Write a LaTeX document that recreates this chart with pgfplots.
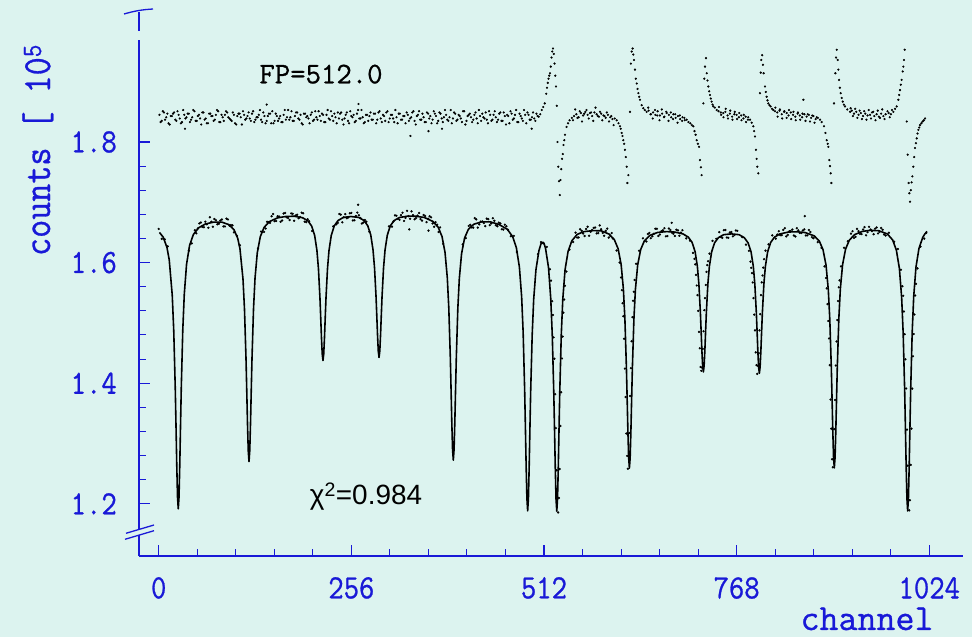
\documentclass[border=0pt]{standalone}
\usepackage{pgfplots}
\pgfplotsset{compat=1.18}
\usepackage{fontspec}
\newfontfamily\monofont[FakeStretch=0.88,FakeBold=0.8]{Latin Modern Mono}
\newfontfamily\plainmono[FakeBold=0.8]{Latin Modern Mono}
\newfontfamily\sansfont{Liberation Sans}
\definecolor{bgc}{RGB}{220,243,239}
\definecolor{axb}{RGB}{25,25,215}
\begin{document}
\begin{tikzpicture}[x=1bp,y=1bp]
\fill[bgc] (0,0) rectangle (972,637);
\path[use as bounding box] (0,0) rectangle (972,637);
\begin{axis}[
  at={(139bp,81bp)}, anchor=south west,
  scale only axis, width=824bp, height=544bp,
  xmin=-26.18, xmax=1068.84, ymin=1.11343, ymax=2.01559,
  axis x line=bottom, axis y line=left,
  axis line style={-, draw=axb, line width=1.3pt},
  tick align=inside,
  major tick length=11bp, minor tick length=7bp,
  tick style={draw=axb, line width=1.1pt},
  xtick={0,256,512,768,1024}, xticklabels={0,256,512,768,1024},
  ytick={1.2,1.4,1.6,1.8}, yticklabels={1.2,1.4,1.6,1.8},
  minor xtick={51.2,102.4,153.6,204.8,307.2,358.4,409.6,460.8,563.2,614.4,665.6,716.8,819.2,870.4,921.6,972.8},
  minor ytick={1.24,1.28,1.32,1.36,1.44,1.48,1.52,1.56,1.64,1.68,1.72,1.76},
  xticklabel style={anchor=north, inner sep=0pt, yshift=-21bp, text=axb, font=\monofont\fontsize{34}{34}\selectfont},
  yticklabel style={anchor=east, inner sep=0pt, xshift=-22bp, text=axb, font=\monofont\fontsize{34}{34}\selectfont},
]
% residuals
\addplot[only marks, mark=*, mark size=0.9pt, mark options={draw=none, fill=black}] coordinates {
(1,1.845) (4,1.835) (7,1.849) (10,1.841) (13,1.831) (16,1.843) (19,1.847) (22,1.837) (25,1.851) (28,1.839)
(31,1.833) (34,1.845) (37,1.841) (40,1.847) (43,1.837) (46,1.853) (49,1.835) (52,1.843) (55,1.839) (58,1.849)
(61,1.837) (64,1.831) (67,1.847) (70,1.843) (73,1.835) (76,1.845) (79,1.851) (82,1.833) (85,1.841) (88,1.845)
(91,1.849) (94,1.839) (97,1.835) (100,1.845) (103,1.829) (106,1.847) (109,1.841) (112,1.851) (115,1.837) (118,1.843)
(121,1.839) (124,1.847) (127,1.833) (130,1.841) (133,1.845) (136,1.837) (139,1.849) (142,1.831) (145,1.843) (148,1.847)
(151,1.851) (154,1.835) (157,1.843) (160,1.839) (163,1.833) (166,1.845) (169,1.837) (172,1.853) (175,1.841) (178,1.835)
(181,1.843) (184,1.849) (187,1.837) (190,1.831) (193,1.847) (196,1.841) (199,1.839) (202,1.845) (205,1.835) (208,1.851)
(211,1.837) (214,1.843) (217,1.847) (220,1.833) (223,1.845) (226,1.839) (229,1.851) (232,1.835) (235,1.841) (238,1.849)
(241,1.847) (244,1.837) (247,1.839) (250,1.849) (253,1.831) (256,1.843) (259,1.845) (262,1.835) (265,1.853) (268,1.839)
(271,1.841) (274,1.833) (277,1.845) (280,1.843) (283,1.837) (286,1.847) (289,1.831) (292,1.849) (295,1.839) (298,1.845)
(301,1.835) (304,1.851) (307,1.839) (310,1.845) (313,1.833) (316,1.841) (319,1.847) (322,1.837) (325,1.843) (328,1.831)
(331,1.845) (334,1.839) (337,1.849) (340,1.835) (343,1.843) (346,1.851) (349,1.837) (352,1.841) (355,1.833) (358,1.847)
(361,1.843) (364,1.837) (367,1.847) (370,1.831) (373,1.849) (376,1.839) (379,1.841) (382,1.845) (385,1.835) (388,1.853)
(391,1.839) (394,1.847) (397,1.837) (400,1.843) (403,1.833) (406,1.851) (409,1.835) (412,1.845) (415,1.841) (418,1.837)
(421,1.849) (424,1.831) (427,1.843) (430,1.847) (433,1.839) (436,1.837) (439,1.851) (442,1.835) (445,1.845) (448,1.841)
(451,1.837) (454,1.849) (457,1.835) (460,1.843) (463,1.845) (466,1.831) (469,1.847) (472,1.839) (475,1.853) (478,1.833)
(481,1.843) (484,1.835) (487,1.845) (490,1.849) (493,1.837) (496,1.841) (499,1.839) (502,1.847)
(2.5,1.833) (5.5,1.851) (8.5,1.837) (11.5,1.847) (14.5,1.829) (17.5,1.843) (20.5,1.849) (23.5,1.835) (26.5,1.845) (29.5,1.831)
(32.5,1.853) (35.5,1.839) (38.5,1.847) (41.5,1.833) (44.5,1.841) (47.5,1.851) (50.5,1.835) (53.5,1.845) (56.5,1.829) (59.5,1.849)
(62.5,1.839) (65.5,1.831) (68.5,1.847) (71.5,1.843) (74.5,1.837) (77.5,1.853) (80.5,1.833) (83.5,1.845) (86.5,1.835) (89.5,1.851)
(92.5,1.841) (95.5,1.837) (98.5,1.849) (101.5,1.831) (104.5,1.843) (107.5,1.847) (110.5,1.829) (113.5,1.845) (116.5,1.839) (119.5,1.849)
(122.5,1.835) (125.5,1.851) (128.5,1.837) (131.5,1.841) (134.5,1.853) (137.5,1.833) (140.5,1.843) (143.5,1.835) (146.5,1.847) (149.5,1.831)
(152.5,1.831) (155.5,1.847) (158.5,1.835) (161.5,1.843) (164.5,1.833) (167.5,1.853) (170.5,1.841) (173.5,1.837) (176.5,1.851) (179.5,1.835)
(182.5,1.849) (185.5,1.839) (188.5,1.845) (191.5,1.829) (194.5,1.847) (197.5,1.843) (200.5,1.831) (203.5,1.849) (206.5,1.837) (209.5,1.841)
(212.5,1.851) (215.5,1.835) (218.5,1.845) (221.5,1.833) (224.5,1.853) (227.5,1.837) (230.5,1.843) (233.5,1.847) (236.5,1.831) (239.5,1.839)
(242.5,1.849) (245.5,1.829) (248.5,1.845) (251.5,1.835) (254.5,1.851) (257.5,1.841) (260.5,1.833) (263.5,1.847) (266.5,1.839) (269.5,1.853)
(272.5,1.831) (275.5,1.845) (278.5,1.835) (281.5,1.849) (284.5,1.837) (287.5,1.847) (290.5,1.837) (293.5,1.851) (296.5,1.833) (299.5,1.843)
(302.5,1.849) (305.5,1.833) (308.5,1.845) (311.5,1.839) (314.5,1.853) (317.5,1.831) (320.5,1.847) (323.5,1.837) (326.5,1.843) (329.5,1.849)
(332.5,1.835) (335.5,1.841) (338.5,1.851) (341.5,1.829) (344.5,1.845) (347.5,1.837) (350.5,1.847) (353.5,1.833) (356.5,1.849) (359.5,1.839)
(362.5,1.831) (365.5,1.851) (368.5,1.843) (371.5,1.835) (374.5,1.847) (377.5,1.833) (380.5,1.853) (383.5,1.837) (386.5,1.841) (389.5,1.831)
(392.5,1.849) (395.5,1.835) (398.5,1.845) (401.5,1.839) (404.5,1.851) (407.5,1.829) (410.5,1.843) (413.5,1.847) (416.5,1.833) (419.5,1.845)
(422.5,1.839) (425.5,1.853) (428.5,1.835) (431.5,1.841) (434.5,1.849) (437.5,1.831) (440.5,1.845) (443.5,1.837) (446.5,1.851) (449.5,1.833)
(452.5,1.847) (455.5,1.835) (458.5,1.849) (461.5,1.829) (464.5,1.843) (467.5,1.851) (470.5,1.837) (473.5,1.845) (476.5,1.833) (479.5,1.847)
(482.5,1.839) (485.5,1.853) (488.5,1.831) (491.5,1.845) (494.5,1.837) (497.5,1.849) (500.5,1.835) (503.5,1.843)
(35,1.822) (143.5,1.862) (265.5,1.863) (334.5,1.810) (358.5,1.818) (376.5,1.822) (495.6,1.822)
(505,1.842) (507,1.846) (509,1.853) (511,1.858) (513,1.864) (515,1.880) (516,1.890) (517,1.898) (518,1.905) (519,1.910)
(520,1.914) (521,1.925) (522,1.940) (523,1.950) (524,1.955) (525,1.946) (526,1.930) (527,1.910) (528,1.892) (529,1.860)
(530,1.800) (531,1.759) (532,1.735) (533,1.712) (534,1.737) (535,1.755) (536,1.772) (537,1.780) (538,1.795) (539,1.803)
(540,1.812) (542,1.825) (544,1.831) (546,1.836) (549,1.840) (552,1.843) (555,1.846) (558,1.841) (561,1.848) (564,1.844)
(567,1.850) (570,1.845) (573,1.848) (576,1.843) (579,1.849) (582,1.846) (585,1.842) (588,1.847) (591,1.844) (594,1.840)
(597,1.845) (600,1.841) (603,1.838) (606,1.839) (608.6,1.836) (611,1.831) (613,1.826) (614,1.822) (615.2,1.815) (616.3,1.810)
(617.4,1.803) (618.5,1.797) (619.6,1.787) (620.7,1.775) (621.9,1.759) (622.8,1.732) (624.1,1.745) (626.3,1.850) (627.5,1.930) (628.5,1.950)
(629.8,1.955) (630.7,1.945) (631.6,1.936) (632.9,1.920) (634,1.905) (635.2,1.897) (636.3,1.888) (637.4,1.881) (638.5,1.875) (639.6,1.870)
(641.8,1.861) (644,1.856) (646,1.853) (648.4,1.850) (651,1.852) (654,1.846) (657,1.849) (660,1.845) (663,1.851) (666,1.844)
(669,1.847) (672,1.842) (675,1.848) (678,1.845) (681,1.841) (684,1.846) (687,1.840) (690,1.843) (693,1.838) (696,1.841)
(699,1.836) (701.6,1.837) (704,1.833) (706.5,1.831) (708.5,1.828) (710.5,1.826) (712,1.818) (713.5,1.812) (714.9,1.803) (716.5,1.797)
(718,1.792) (719.3,1.770) (720.5,1.758) (721.5,1.745) (723.8,1.864) (725,1.905) (726,1.925) (727.3,1.939) (728.2,1.914) (729.3,1.902)
(730.4,1.892) (731.5,1.884) (732.6,1.878) (733.7,1.872) (734.8,1.867) (736,1.862) (737,1.859) (739,1.857) (741.5,1.853) (744,1.851)
(747,1.849) (750.3,1.848) (753,1.850) (756,1.844) (759,1.847) (762,1.842) (765,1.846) (768,1.845) (771,1.841) (774,1.844)
(777,1.839) (780,1.842) (783,1.837) (785.8,1.837) (788,1.832) (790.2,1.826) (791.3,1.818) (792.4,1.809) (793.7,1.787) (794.6,1.772)
(795.5,1.759) (796.8,1.748) (799,1.881) (800,1.915) (800.8,1.936) (802,1.944) (803,1.928) (803.9,1.914) (805.7,1.892) (806.8,1.883)
(807.9,1.875) (809,1.869) (810.1,1.864) (811.6,1.861) (813.2,1.859) (815,1.855) (816.8,1.853) (819,1.851) (822,1.849) (825,1.852)
(828,1.846) (831,1.850) (834.5,1.848) (837,1.844) (840,1.849) (843,1.845) (846,1.842) (849,1.847) (852,1.844) (855,1.841)
(856.7,1.870) (858,1.846) (861,1.842) (864,1.845) (867,1.840) (870,1.843) (873,1.838) (876,1.840) (878.8,1.837) (881,1.833)
(884.1,1.826) (886,1.815) (887.7,1.803) (889,1.797) (889.9,1.792) (891.2,1.770) (892.1,1.760) (893,1.748) (893.9,1.732) (897.4,1.864)
(899.2,1.914) (900.1,1.940) (901,1.953) (902.3,1.936) (903.2,1.920) (904.1,1.903) (905.2,1.890) (906.3,1.881) (907.6,1.873) (909,1.867)
(910.5,1.862) (912,1.859) (915,1.854) (918.7,1.850) (921,1.852) (924,1.847) (927,1.850) (930,1.845) (933,1.848) (936,1.843)
(939,1.847) (942,1.844) (945.3,1.845) (948,1.849) (951,1.843) (954,1.846) (957,1.842) (960,1.847) (963,1.843) (966,1.846)
(970,1.848) (973,1.846) (976.3,1.850) (978.5,1.855) (980.7,1.859) (982.9,1.870) (984,1.878) (985.1,1.886) (986.2,1.895) (987.3,1.903)
(988.7,1.917) (989.5,1.925) (990.4,1.936) (991.3,1.953) (994,1.834) (995.3,1.779) (996.6,1.732) (997.5,1.715) (998.4,1.701) (999.5,1.720)
(1000.5,1.733) (1001.5,1.743) (1002.8,1.759) (1004,1.775) (1005,1.790) (1006.2,1.798) (1007.3,1.806) (1008.4,1.814) (1009.5,1.820) (1010.6,1.824)
(1011.7,1.828) (1013.5,1.831) (1015.2,1.834) (1016.8,1.836) (1018.4,1.839)
(550.5,1.836) (553.5,1.854) (556.5,1.840) (559.5,1.851) (562.5,1.834) (565.5,1.847) (568.5,1.853) (571.5,1.839) (574.5,1.849) (577.5,1.835)
(580.5,1.857) (583.5,1.843) (586.5,1.850) (589.5,1.836) (592.5,1.843) (595.5,1.849) (598.5,1.834) (601.5,1.843) (604.5,1.828)
(650.5,1.857) (653.5,1.846) (656.5,1.839) (659.5,1.853) (662.5,1.844) (665.5,1.836) (668.5,1.854) (671.5,1.841) (674.5,1.850) (677.5,1.835)
(680.5,1.849) (683.5,1.838) (686.5,1.846) (689.5,1.832) (692.5,1.844) (695.5,1.835) (698.5,1.840)
(744.5,1.858) (747.5,1.845) (750.5,1.841) (753.5,1.855) (756.5,1.839) (759.5,1.852) (762.5,1.837) (765.5,1.850) (768.5,1.838) (771.5,1.848)
(774.5,1.836) (777.5,1.845) (780.5,1.833) (783.5,1.841)
(819.5,1.857) (822.5,1.842) (825.5,1.854) (828.5,1.839) (831.5,1.851) (834.5,1.840) (837.5,1.853) (840.5,1.838) (843.5,1.850) (846.5,1.836)
(849.5,1.849) (852.5,1.837) (855.5,1.847) (859.5,1.835) (862.5,1.846) (865.5,1.834) (868.5,1.844) (871.5,1.832) (874.5,1.841)
(919.5,1.856) (922.5,1.843) (925.5,1.855) (928.5,1.840) (931.5,1.852) (934.5,1.838) (937.5,1.851) (940.5,1.837) (943.5,1.853) (946.5,1.839)
(949.5,1.850) (952.5,1.836) (955.5,1.852) (958.5,1.840) (961.5,1.854) (964.5,1.838) (968.5,1.851) (971.5,1.841) (974.5,1.853)
};
% measured spectrum
\addplot[only marks, mark=*, mark size=0.95pt, mark options={draw=none, fill=black}] coordinates {
(0,1.6558) (4,1.6393) (8,1.6385) (12,1.627) (40,1.6196) (44,1.6318) (48,1.6536) (52,1.6566) (56,1.6664) (60,1.6586)
(64,1.6634) (68,1.6751) (72,1.6594) (76,1.6703) (80,1.6644) (84,1.6715) (88,1.660) (92,1.6716) (96,1.6623) (100,1.6502)
(104,1.6443) (108,1.6288) (132,1.6235) (136,1.6515) (140,1.6508) (144,1.6677) (148,1.6659) (152,1.6805) (156,1.669) (160,1.6763)
(164,1.6698) (168,1.6824) (172,1.6738) (176,1.6816) (180,1.6694) (184,1.6795) (188,1.6757) (192,1.6817) (196,1.6671) (200,1.6685)
(204,1.6524) (232,1.660) (236,1.6635) (240,1.6806) (244,1.6668) (248,1.6804) (252,1.675) (256,1.6824) (260,1.6703) (264,1.6829)
(268,1.6738) (272,1.6664) (276,1.6679) (280,1.6511) (306,1.6601) (310,1.6597) (314,1.6784) (318,1.6724) (322,1.6787) (326,1.669)
(330,1.6859) (334,1.6727) (338,1.6787) (342,1.6738) (346,1.6823) (350,1.6696) (354,1.6773) (358,1.6728) (362,1.675) (366,1.6595)
(370,1.6629) (374,1.6584) (378,1.6311) (404,1.6301) (408,1.6405) (412,1.6607) (416,1.6584) (420,1.6736) (424,1.6581) (428,1.6681)
(432,1.6656) (436,1.6729) (440,1.6621) (444,1.6735) (448,1.6619) (452,1.6663) (456,1.6553) (460,1.6629) (464,1.6544) (468,1.6437)
(472,1.6443) (476,1.6175) (504,1.614) (508,1.634) (511,1.632)
(50,1.6485) (54,1.665) (58,1.6592) (62,1.6679) (66,1.6577) (70,1.6678) (74,1.6723) (78,1.6635) (82,1.6698) (86,1.660)
(90,1.6729) (94,1.6612) (98,1.6617) (142,1.6565) (146,1.6669) (150,1.6768) (154,1.6687) (158,1.6768) (162,1.6676) (166,1.6813)
(170,1.6753) (174,1.6705) (178,1.6809) (182,1.678) (186,1.6735) (190,1.6828) (194,1.6678) (198,1.6719) (238,1.6658) (242,1.6795)
(246,1.6751) (250,1.6736) (254,1.6817) (258,1.6699) (262,1.6772) (266,1.6786) (270,1.6647) (274,1.6706) (312,1.6684) (316,1.6777)
(320,1.671) (324,1.6827) (328,1.6741) (332,1.6771) (336,1.685) (340,1.6718) (344,1.6779) (348,1.6721) (352,1.6789) (356,1.6671)
(360,1.6769) (364,1.6649) (368,1.6671) (372,1.6507) (414,1.6627) (418,1.658) (422,1.6716) (426,1.6635) (430,1.6682) (434,1.6605)
(438,1.672) (442,1.665) (446,1.6694) (450,1.6602) (454,1.6649) (458,1.6547) (462,1.6603)
(265,1.696) (333,1.655) (358.5,1.653) (681.7,1.666) (858.6,1.677)
(515.8,1.626) (519.8,1.589) (521.3,1.570) (522.8,1.536) (523.8,1.513) (524.8,1.476) (525.8,1.4406) (526.8,1.3818) (527.8,1.3255) (528.8,1.2555)
(529.8,1.2109) (530.8,1.1857) (531.8,1.2095) (532.8,1.2576) (533.8,1.3291) (534.8,1.3849) (535.8,1.4411) (536.8,1.4773) (537.8,1.517) (538.8,1.5387)
(539.8,1.5617) (541.8,1.5851) (545.8,1.6215) (550.8,1.6341)
(554,1.6497) (558,1.6417) (562,1.6528) (566,1.644) (570,1.6595) (574,1.6511) (578,1.6575) (582,1.6484) (586,1.6617) (590,1.6492)
(594,1.6526) (598,1.6415) (602,1.649)
(556,1.6415) (560,1.6553) (564,1.6481) (568,1.6556) (572,1.6445) (576,1.6541) (580,1.6582) (584,1.6489) (588,1.6553) (592,1.6445)
(596,1.6563) (600,1.6442)
(603.5,1.640) (608.5,1.620) (612.5,1.600) (614.5,1.5752) (615.5,1.5543) (616.5,1.5327) (617.5,1.5111) (618.5,1.4736) (619.5,1.4242) (620.5,1.377)
(621.5,1.3166) (622.5,1.2795) (623.5,1.2581) (624.5,1.2783) (625.5,1.3174) (626.5,1.3787) (627.5,1.4249) (628.5,1.4696) (629.5,1.5095) (630.5,1.5367)
(631.5,1.5516) (632.5,1.5712) (634.5,1.5981) (638.5,1.6197) (643.5,1.6403)
(648,1.635) (652,1.6492) (656,1.6437) (660,1.6561) (664,1.6441) (668,1.6521) (672,1.6571) (676,1.6439) (680,1.6541) (684,1.6478)
(688,1.6545) (692,1.6445) (696,1.6537)
(650,1.6474) (654,1.6405) (658,1.6477) (662,1.656) (666,1.6465) (670,1.6535) (674,1.6435) (678,1.6565) (682,1.6497) (686,1.6441)
(690,1.6534) (694,1.6497)
(701,1.6402) (706,1.6365) (710,1.6162) (712,1.6062) (713,1.5971) (714,1.5795) (715,1.562) (716,1.5461) (717,1.520) (718,1.4851)
(719,1.4579) (720,1.4269) (721,1.4206) (722,1.4259) (723,1.4569) (724,1.4861) (725,1.521) (726,1.5411) (727,1.5629) (728,1.5845)
(729,1.5959) (730,1.6022) (732,1.6149) (736,1.636) (741,1.6394)
(745,1.6505) (749,1.641) (753,1.654) (757,1.641) (761,1.6506) (765,1.6456) (769,1.6526)
(747,1.6424) (751,1.6538) (755,1.6416) (759,1.650) (763,1.6435) (767,1.6533)
(775.4,1.6423) (780.4,1.6297) (784.4,1.6196) (786.4,1.6016) (787.4,1.5914) (788.4,1.5826) (789.4,1.567) (790.4,1.541) (791.4,1.5136) (792.4,1.4875)
(793.4,1.451) (794.4,1.4298) (795.4,1.4154) (796.4,1.4288) (797.4,1.450) (798.4,1.4875) (799.4,1.5146) (800.4,1.546) (801.4,1.5672) (802.4,1.5786)
(803.4,1.5916) (804.4,1.6056) (806.4,1.6198) (810.4,1.6303) (815.4,1.6451)
(820,1.6396) (824,1.652) (828,1.6455) (832,1.657) (836,1.646) (840,1.6523) (844,1.645) (848,1.6571) (852,1.6492) (856,1.6533)
(860,1.645) (864,1.654) (868,1.6422) (872,1.643)
(822,1.6466) (826,1.6454) (830,1.6542) (834,1.6435) (838,1.652) (842,1.6548) (846,1.6433) (850,1.6535) (854,1.6492) (858,1.6551)
(862,1.6451) (866,1.6507) (870,1.6404)
(875.8,1.6339) (880.8,1.6243) (884.8,1.5938) (886.8,1.5745) (887.8,1.5573) (888.8,1.5312) (889.8,1.5032) (890.8,1.4742) (891.8,1.4299) (892.8,1.3729)
(893.8,1.3246) (894.8,1.2738) (895.8,1.2605) (896.8,1.2749) (897.8,1.3238) (898.8,1.3722) (899.8,1.4293) (900.8,1.4692) (901.8,1.5047) (902.8,1.5362)
(903.8,1.559) (904.8,1.5705) (906.8,1.5937) (910.8,1.6245) (915.8,1.6353)
(920,1.648) (924,1.641) (928,1.656) (932,1.6475) (936,1.6549) (940,1.6452) (944,1.6593) (948,1.6521) (952,1.6563) (956,1.6484)
(960,1.6575) (964,1.6465)
(922,1.652) (926,1.6428) (930,1.6521) (934,1.6473) (938,1.6588) (942,1.6504) (946,1.6549) (950,1.647) (954,1.6583) (958,1.6512)
(962,1.6544) (966,1.6448)
(970.3,1.6495) (977.3,1.6346) (982.3,1.6225) (986.3,1.5882) (988.3,1.5608) (989.3,1.5449) (990.3,1.5189) (991.3,1.4813) (992.3,1.4396) (993.3,1.3912)
(994.3,1.323) (995.3,1.2632) (996.3,1.2067) (997.3,1.1891) (998.3,1.2059) (999.3,1.2645) (1000.3,1.3246) (1001.3,1.391) (1002.3,1.4446) (1003.3,1.4815)
(1004.3,1.5139) (1005.3,1.5454) (1006.3,1.5648) (1008.3,1.5904) (1012.3,1.6265) (1017.3,1.6397) (1020,1.6493)
};
% fitted curve
\addplot[black, line width=1.6pt, no marks, line join=round] coordinates {
(1,1.6500) (6,1.6422) (11,1.6250) (14,1.6045) (18,1.5459) (20,1.4869) (22,1.3917) (23,1.3292) (24,1.2639) (25,1.2112)
(26,1.1917) (27,1.2114) (28,1.2641) (29,1.3295) (30,1.3921) (32,1.4885) (34,1.5476) (37,1.5970) (41,1.6283) (46,1.6464)
(53,1.6577) (62,1.6640) (73,1.6671) (84,1.6670) (93,1.6631) (100,1.6547) (105,1.6403) (108,1.6228) (112,1.5730) (114,1.5228)
(116,1.4416) (117,1.3883) (118,1.3328) (119,1.2877) (120,1.2700) (121,1.2878) (122,1.3330) (123,1.3886) (124,1.4420) (126,1.5233)
(128,1.5741) (131,1.6162) (135,1.6429) (140,1.6583) (147,1.6679) (158,1.6742) (169,1.6765) (180,1.6769) (191.3,1.6743) (198.3,1.6692)
(203.3,1.6605) (207.3,1.6447) (210.3,1.6198) (212.3,1.5896) (214.3,1.5409) (215.3,1.5088) (216.3,1.4754) (217.3,1.4484) (218.3,1.4377) (219.3,1.4484)
(220.3,1.4755) (221.3,1.5089) (222.3,1.5410) (224.3,1.5898) (226.3,1.6199) (229.3,1.6450) (233.3,1.6609) (238.3,1.6697) (245.3,1.6749) (255.5,1.6764)
(265.8,1.6749) (272.8,1.6699) (277.8,1.6611) (281.8,1.6457) (284.8,1.6212) (286.8,1.5916) (288.8,1.5438) (289.8,1.5124) (290.8,1.4796) (291.8,1.4531)
(292.8,1.4427) (293.8,1.4531) (294.8,1.4796) (295.8,1.5124) (296.8,1.5437) (298.8,1.5915) (300.8,1.6211) (303.8,1.6456) (307.8,1.6610) (312.8,1.6697)
(319.8,1.6747) (331,1.6771) (342,1.6768) (353,1.6748) (364.5,1.6682) (371.5,1.6585) (376.5,1.6432) (380.5,1.6168) (383.5,1.5751) (385.5,1.5248)
(387.5,1.4437) (388.5,1.3905) (389.5,1.3349) (390.5,1.2902) (391.5,1.2724) (392.5,1.2900) (393.5,1.3347) (394.5,1.3900) (395.5,1.4430) (397.5,1.5239)
(399.5,1.5738) (402.5,1.6150) (406.5,1.6408) (411.5,1.6552) (418.5,1.6635) (429,1.6675) (441,1.6674) (452,1.6633) (463.3,1.6552) (470.3,1.6432)
(475.3,1.6246) (479.3,1.5928) (482.3,1.5436) (484.3,1.4845) (486.3,1.3892) (487.3,1.3269) (488.3,1.2619) (489.3,1.2092) (490.3,1.1883) (491.3,1.2085)
(492.3,1.2602) (493.3,1.3244) (494.3,1.3858) (496.3,1.4794) (498.3,1.5390) (501.3,1.5880) (505.3,1.6200) (508,1.6310) (510.3,1.6340) (512,1.6320)
(514,1.6240) (518,1.5920) (521,1.5400) (523,1.4800) (525,1.3848) (526,1.3235) (527,1.2595) (528,1.2079) (529,1.1877) (530,1.2085)
(531,1.2606) (532,1.3251) (533,1.3869) (535,1.4813) (537,1.5397) (540,1.5881) (544,1.6185) (549,1.6361) (556,1.6467) (565,1.6513)
(577,1.6530) (588,1.6527) (598.5,1.6472) (605.5,1.6380) (610.5,1.6230) (614.5,1.5970) (617.5,1.5563) (619.5,1.5071) (621.5,1.4272) (622.5,1.3750)
(623.5,1.3206) (624.5,1.2765) (625.5,1.2591) (626.5,1.2763) (627.5,1.3204) (628.5,1.3747) (629.5,1.4269) (631.5,1.5065) (633.5,1.5556) (636.5,1.5961)
(640.5,1.6217) (645.5,1.6363) (652.5,1.6450) (663,1.6500) (675,1.6514) (686,1.6506) (696.8,1.6475) (703.8,1.6422) (708.8,1.6335) (712.8,1.6182)
(715.8,1.5941) (717.8,1.5650) (719.8,1.5180) (720.8,1.4871) (721.8,1.4549) (722.8,1.4289) (723.8,1.4186) (724.8,1.4289) (725.8,1.4549) (726.8,1.4871)
(727.8,1.5180) (729.8,1.5649) (731.8,1.5939) (734.8,1.6179) (738.8,1.6330) (743.8,1.6414) (750.8,1.6463) (761,1.6476) (771.2,1.6463) (778.2,1.6413)
(783.2,1.6327) (787.2,1.6176) (790.2,1.5934) (792.2,1.5640) (794.2,1.5166) (795.2,1.4855) (796.2,1.4530) (797.2,1.4268) (798.2,1.4164) (799.2,1.4268)
(800.2,1.4530) (801.2,1.4855) (802.2,1.5166) (804.2,1.5642) (806.2,1.5936) (809.2,1.6178) (813.2,1.6333) (818.2,1.6421) (825.2,1.6474) (837,1.6507)
(848,1.6511) (859,1.6498) (870.8,1.6445) (877.8,1.6359) (882.8,1.6213) (886.8,1.5958) (889.8,1.5553) (891.8,1.5062) (893.8,1.4269) (894.8,1.3749)
(895.8,1.3206) (896.8,1.2768) (897.8,1.2595) (898.8,1.2769) (899.8,1.3208) (900.8,1.3752) (901.8,1.4273) (903.8,1.5067) (905.8,1.5560) (908.8,1.5967)
(912.8,1.6225) (917.8,1.6373) (924.8,1.6464) (935,1.6517) (946,1.6536) (957,1.6528) (968.3,1.6475) (975.3,1.6376) (980.3,1.6205) (984.3,1.5902)
(987.3,1.5419) (989.3,1.4833) (991.3,1.3882) (992.3,1.3260) (993.3,1.2612) (994.3,1.2087) (995.3,1.1881) (996.3,1.2089) (997.3,1.2615) (998.3,1.3266)
(999.3,1.3890) (1001.3,1.4845) (1003.3,1.5434) (1006.3,1.5924) (1010.3,1.6235) (1015.3,1.6417) (1018,1.6473) (1021,1.6518)
};
\end{axis}
% axis decorations
\draw[axb, line width=1.3pt] (124,623) to[bend left=6] (153,628);
\fill[bgc] (136,597) rectangle (142,606);
\fill[bgc] (136,102.3) rectangle (142,107.2);
\draw[axb, line width=1.3pt] (126,103.7) -- (154,112);
\draw[axb, line width=1.3pt] (125,97.7) -- (154,106.3);
% texts
\node[anchor=base, inner sep=0pt, font=\plainmono\fontsize{30}{30}\selectfont] at (321,553.7) {FP=512.0};
\node[anchor=base, inner sep=0pt, font=\sansfont\fontsize{28}{28}\selectfont] at (366,132) {χ\textsuperscript{2}=0.984};
\node[anchor=base, inner sep=0pt, text=axb, font=\plainmono\fontsize{37}{37}\selectfont] at (867,7) {channel};
\node[rotate=90, anchor=base, inner sep=0pt, text=axb, font=\monofont\fontsize{40}{40}\selectfont] at (50,487) {counts [ 10\textsuperscript{5}};
\end{tikzpicture}
\end{document}
